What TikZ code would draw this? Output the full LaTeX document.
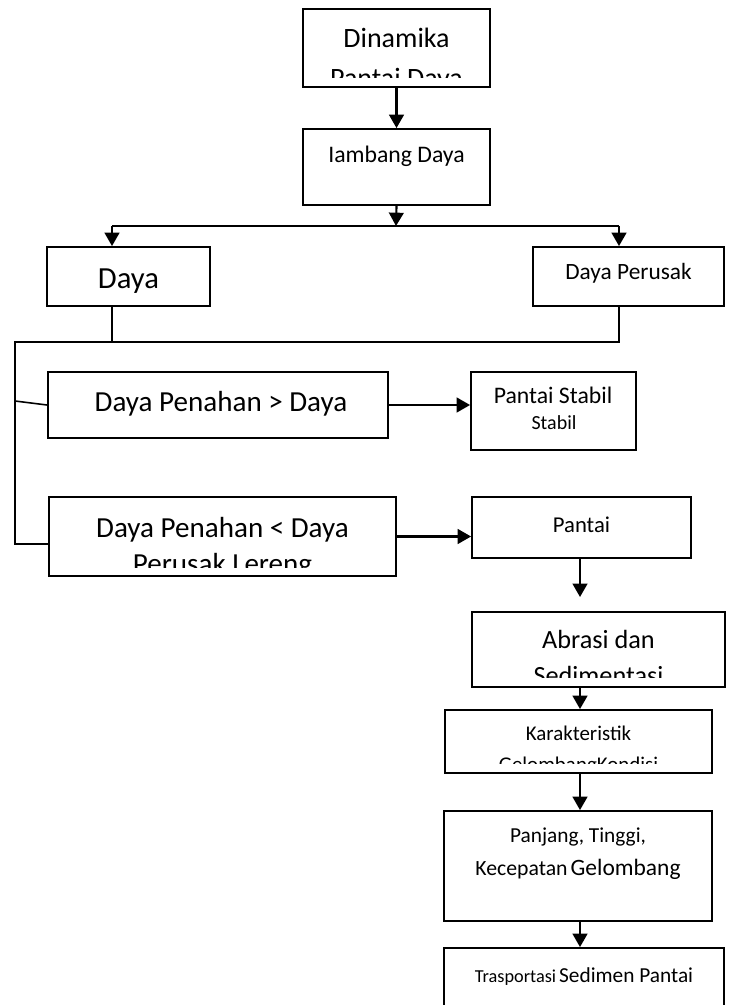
\documentclass[tikz,border=0pt]{standalone}
\usepackage{fontspec}
\setmainfont{Carlito}
\usetikzlibrary{arrows.meta}

\newcommand{\fsz}[1]{\fontsize{#1}{#1}\selectfont}

\tikzset{
  box/.style={draw, rectangle, line width=1.4pt, inner sep=0pt},
  wh/.style 2 args={minimum width=#1*0.75pt, minimum height=#2*0.75pt},
  txt/.style={anchor=base, inner sep=0pt},
  arr/.style={line width=1.6pt, -{Triangle[width=11pt,length=10pt]}},
  wire/.style={line width=1.2pt},
}

\begin{document}
\begin{tikzpicture}[x=0.75pt,y=0.75pt,yscale=-1,xscale=1]
\clip (0,0) rectangle (730,1005);

%Shape: boxes
\node[box, wh={187}{78}]  (dinamika) at (396.5,48) {};
\node[box, wh={187}{76}]  (iambang)  at (396.5,167) {};
\node[box, wh={163}{59}]  (daya)     at (128.5,276.5) {};
\node[box, wh={191}{59}]  (perusak)  at (628.5,276.5) {};
\node[box, wh={340}{66}]  (penahanA) at (218,405) {};
\node[box, wh={165}{78}]  (stabil)   at (553.5,411) {};
\node[box, wh={347}{79}]  (penahanB) at (222.5,536.5) {};
\node[box, wh={219}{61}]  (pantai)   at (581.5,527.5) {};
\node[box, wh={253}{75}]  (abrasi)   at (598.5,649.5) {};
\node[box, wh={267}{63}]  (karakter) at (578.5,741.5) {};
\node[box, wh={268}{110}] (panjang)  at (578,866) {};
\node[box, wh={280}{100}] (trans)    at (584,998) {};

% Text Node
\node[txt, font=\fsz{21}] (dinamika-1) at (396.5,48) {Dinamika};
\begin{scope}
  \clip (dinamika.north west) rectangle ([yshift=-7.5pt]dinamika.south east);
  \node[txt, font=\fsz{21}] (dinamika-2) at (396.5,88) {Pantai Daya};
\end{scope}
% Text Node
\node[txt, font=\fsz{17.8}] (iambang-1) at (396.5,163) {Iambang Daya};
% Text Node
\node[txt, font=\fsz{23}] (daya-1) at (128.5,288) {Daya};
% Text Node
\node[txt, font=\fsz{17.5}] (perusak-1) at (628.5,280) {Daya Perusak};
% Text Node
\node[txt, font=\fsz{21.8}] (penahanA-1) at (221,411) {Daya Penahan > Daya};
% Text Node
\node[txt, font=\fsz{17.8}] (stabil-1) at (553,403) {Pantai Stabil};
\node[txt, font=\fsz{15}] (stabil-2) at (554,429) {Stabil};
% Text Node
\node[txt, font=\fsz{21.8}] (penahanB-1) at (222.5,537) {Daya Penahan < Daya};
\begin{scope}
  \clip (penahanB.north west) rectangle ([yshift=-7pt]penahanB.south east);
  \node[txt, font=\fsz{21.8}] (penahanB-2) at (222.5,573) {Perusak Lereng};
\end{scope}
% Text Node
\node[txt, font=\fsz{17}] (pantai-1) at (581.5,532) {Pantai};
% Text Node
\node[txt, font=\fsz{19.7}] (abrasi-1) at (598.5,648) {Abrasi dan};
\begin{scope}
  \clip (abrasi.north west) rectangle ([yshift=-7.5pt]abrasi.south east);
  \node[txt, font=\fsz{19.7}] (abrasi-2) at (598.5,684) {Sedimentasi};
\end{scope}
% Text Node
\node[txt, font=\fsz{15.7}] (karakter-1) at (578.5,740) {Karakteristik};
\begin{scope}
  \clip (karakter.north west) rectangle ([yshift=-7.5pt]karakter.south east);
  \node[txt, font=\fsz{15.7}] (karakter-2) at (578.5,771) {GelombangKondisi};
\end{scope}
% Text Node
\node[txt, font=\fsz{16}] (panjang-1) at (578,842) {Panjang, Tinggi,};
\node[txt] (panjang-2) at (578,875) {{\fsz{16.3}Kecepatan} {\fsz{17.6}Gelombang}};
% Text Node
\node[txt] (trans-1) at (584,982) {{\fsz{13.7}Trasportasi} {\fsz{16}Sedimen Pantai}};

%Straight Lines
\coordinate (split)  at (396,226);
\coordinate (splitL) at (112,226);
\coordinate (splitR) at (619,226);
\coordinate (joinL)  at (15,342);
\coordinate (busA)   at (15,401);
\coordinate (busB)   at (15,544);
\coordinate (col)    at (580,0);
\coordinate (abrasiIn) at (580,597);

\draw[arr] (dinamika.south) -- (iambang.north);
\draw[arr] (iambang.south) -- (split);
\draw[wire, line width=1.8pt] (splitL) -- (splitR);
\draw[arr] (splitL) -- (splitL |- daya.north);
\draw[arr] (splitR) -- (splitR |- perusak.north);
\draw[wire] (splitL |- daya.south) -- (splitL |- joinL);
\draw[wire] (splitR |- perusak.south) -- (splitR |- joinL) -- (joinL) -- (busB) -- (busB -| penahanB.west);
\draw[wire] (busA) -- (penahanA.west);
\draw[arr] (penahanA.east) -- (penahanA.east -| stabil.west);
\draw[arr] (penahanB.east) -- (penahanB.east -| pantai.west);
\draw[arr] (pantai.south -| col) -- (abrasiIn);
\draw[arr] (abrasi.south -| col) -- (karakter.north -| col);
\draw[arr] (karakter.south -| col) -- (panjang.north -| col);
\draw[arr] (panjang.south -| col) -- (trans.north -| col);
\end{tikzpicture}
\end{document}
